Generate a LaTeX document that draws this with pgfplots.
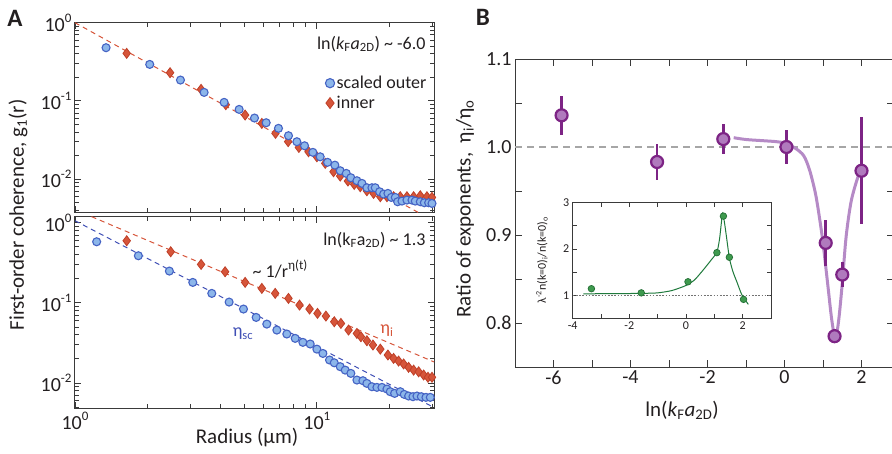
\documentclass[border=0pt]{standalone}
\usepackage{fontspec}
\setmainfont{Carlito}
\usepackage{pgfplots}
\pgfplotsset{compat=1.18}
\definecolor{bfill}{HTML}{8CB6EA}
\definecolor{bedge}{HTML}{4563C4}
\definecolor{rfill}{HTML}{D6553A}
\definecolor{redge}{HTML}{BF4028}
\definecolor{bline}{HTML}{3F4FB5}
\definecolor{pdark}{HTML}{7D2485}
\definecolor{pfill}{HTML}{B07ABD}
\definecolor{pfit}{HTML}{B58AC6}
\definecolor{gfill}{HTML}{3E9A4E}
\definecolor{gedge}{HTML}{236E35}
\definecolor{gline}{HTML}{1F7A3C}
\definecolor{frame}{HTML}{3A3A3A}
\definecolor{txt}{HTML}{231F20}
\newcommand\fs[1]{\fontsize{#1}{#1}\selectfont}
\newcommand\sups[1]{\raisebox{0.45em}{\fs{13}#1}}
\newcommand\tp[1]{10\sups{#1}}
\pgfplotsset{
  base/.style={scale only axis, axis line style={frame, line width=1pt},
    tick style={frame, line width=0.9pt}, tick align=inside,
    major tick length=6pt, minor tick length=4pt,
    tick label style={font=\fs{20}, text=txt}},
  bmark/.style={only marks, mark=*, mark size=4pt, mark options={fill=bfill, draw=bedge, line width=1.1pt}},
  rmark/.style={only marks, mark=diamond*, mark size=5pt, mark options={fill=rfill, draw=redge, line width=0.8pt}},
}
\pgfplotstableread{
x y
1.344 0.479
2.037 0.293
2.729 0.1848
3.419 0.1285
4.136 0.0958
4.771 0.0779
5.523 0.0604
6.171 0.0526
6.939 0.0446
7.633 0.0359
8.265 0.0301
8.892 0.0267
9.625 0.0220
10.32 0.0193
11.07 0.0164
11.87 0.0151
12.49 0.0128
13.23 0.01184
13.82 0.01042
14.64 0.00954
15.36 0.00882
16.10 0.00776
16.89 0.00776
17.43 0.00776
18.17 0.0069
18.88 0.00644
19.67 0.00657
20.31 0.00584
21.10 0.00584
21.57 0.00514
22.48 0.00524
23.57 0.0054
24.73 0.0054
25.52 0.00524
26.77 0.00514
27.81 0.00499
28.98 0.00499
29.92 0.00489
}\topblue
\pgfplotstableread{
x y
1.636 0.4054
2.472 0.2294
3.321 0.1404
4.202 0.0894
5.051 0.066
5.922 0.0516
6.745 0.0385
7.609 0.0301
8.425 0.0254
9.238 0.0224
10.0 0.0193
10.83 0.0159
11.72 0.01243
12.49 0.01094
13.44 0.00945
14.27 0.00856
15.11 0.0080
16.10 0.0071
17.16 0.00657
18.29 0.00596
19.49 0.00596
20.76 0.00596
22.12 0.00596
23.57 0.00596
25.12 0.00596
26.77 0.00613
28.52 0.00596
29.92 0.00584
}\topred
\pgfplotstableread{
x y
1.229 0.5794
1.828 0.3877
2.456 0.2495
3.069 0.1802
3.678 0.1314
4.337 0.1024
4.972 0.0838
5.61 0.0659
6.209 0.0544
6.832 0.0458
7.513 0.0409
8.135 0.0361
8.752 0.0322
9.385 0.0307
10.0 0.0265
10.59 0.0234
11.28 0.0194
11.80 0.0179
12.49 0.0160
13.10 0.0145
13.82 0.0132
14.64 0.0109
15.50 0.0107
16.10 0.0099
16.89 0.0090
17.71 0.00883
18.58 0.00883
19.49 0.00842
20.11 0.0078
20.96 0.00743
22.12 0.0078
22.98 0.00722
23.95 0.00689
24.96 0.00676
25.93 0.00689
27.03 0.00676
28.25 0.00663
29.44 0.00663
}\botblue
\pgfplotstableread{
x y
1.636 0.5963
2.488 0.4347
3.321 0.3021
4.175 0.2447
5.051 0.1802
5.922 0.1517
6.724 0.1314
7.633 0.1138
8.479 0.0940
9.327 0.0838
10.06 0.0740
10.90 0.0685
11.80 0.0582
12.57 0.0555
13.52 0.0458
14.64 0.0416
15.21 0.0378
16.10 0.0337
17.05 0.0298
18.29 0.0265
19.67 0.0224
20.76 0.0203
21.77 0.0188
22.84 0.0173
23.95 0.0157
25.12 0.0145
26.35 0.0138
27.63 0.0126
28.80 0.0118
29.92 0.0118
}\botred
\pgfplotstableread{
x y e
-5.79 1.036 0.022
-3.31 0.983 0.020
-1.59 1.009 0.017
0.05 1.000 0.019
1.07 0.891 0.026
1.30 0.785 0.008
1.50 0.855 0.014
2.00 0.973 0.061
}\ratio
\pgfplotstableread{
x y
-1.32 1.0106
-1.0 1.0085
-0.5 1.007
-0.2 1.006
0.05 1.004
0.3 0.998
0.5 0.990
0.65 0.974
0.8 0.948
0.9 0.922
1.0 0.891
1.13 0.841
1.22 0.806
1.3 0.785
1.36 0.789
1.42 0.808
1.5 0.845
1.6 0.898
1.73 0.938
1.9 0.965
2.0 0.974
}\ratiofit
\pgfplotstableread{
x y
-3.34 1.14
-1.58 1.05
0.07 1.29
1.09 1.92
1.32 2.71
1.53 1.82
2.03 0.91
}\inpts
\pgfplotstableread{
x y
-3.62 1.03
-2.5 1.033
-1.5 1.04
-1.0 1.05
-0.5 1.10
0.0 1.21
0.3 1.33
0.6 1.54
0.9 1.77
1.09 1.93
1.18 2.2
1.24 2.52
1.29 2.77
1.35 2.60
1.42 2.30
1.53 1.81
1.65 1.52
1.8 1.28
1.97 1.01
2.2 0.80
}\infit
\begin{document}
\begin{tikzpicture}
\useasboundingbox (0,0) rectangle (892pt,453pt);
% ---------- A top ----------
\begin{axis}[base, at={(75pt,241pt)}, anchor=south west, width=359pt, height=189.3pt,
  xmode=log, ymode=log, xmin=1, xmax=30.5, ymin=0.0038, ymax=1,
  xtick={1,10}, xticklabels={}, minor xtick={2,3,4,5,6,7,8,9,20,30},
  ytick={0.01,0.1,1}, yticklabels={\tp{-2},\tp{-1},\tp{0}},
  minor ytick={0.004,0.005,0.006,0.007,0.008,0.009,0.02,0.03,0.04,0.05,0.06,0.07,0.08,0.09,0.2,0.3,0.4,0.5,0.6,0.7,0.8,0.9},
  legend style={draw=none, fill=none, at={(0.697,0.628)}, anchor=west, font=\fs{18}, text=txt, row sep=2pt, inner sep=0pt, cells={anchor=west}},
  legend image code/.code={\draw[#1, mark repeat=1] plot coordinates {(4pt,0pt)};},
]
\addlegendimage{bmark, mark size=4.6pt}
\addlegendentry{scaled outer}
\addlegendimage{rmark, mark size=5.5pt}
\addlegendentry{inner}
\addplot[rfill, dash pattern=on 5pt off 4pt, line width=1pt, forget plot] coordinates {(1,1.0) (30.5,0.0029)};
\addplot[rmark, forget plot] table[x=x,y=y]{\topred};
\addplot[bmark, forget plot] table[x=x,y=y]{\topblue};
\end{axis}
% ---------- A bottom ----------
\begin{axis}[base, at={(75pt,44.7pt)}, anchor=south west, width=359pt, height=191.3pt,
  xmode=log, ymode=log, xmin=1, xmax=30.5, ymin=0.00484, ymax=1.18,
  xtick={1,10}, xticklabels={\tp{0},\tp{1}}, minor xtick={2,3,4,5,6,7,8,9,20,30},
  ytick={0.01,0.1,1}, yticklabels={\tp{-2},\tp{-1},\tp{0}},
  minor ytick={0.005,0.006,0.007,0.008,0.009,0.02,0.03,0.04,0.05,0.06,0.07,0.08,0.09,0.2,0.3,0.4,0.5,0.6,0.7,0.8,0.9},
]
\addplot[rfill, dash pattern=on 5pt off 4pt, line width=1pt] coordinates {(1,1.458) (30.5,0.01836)};
\addplot[bline, dash pattern=on 5pt off 4pt, line width=1pt] coordinates {(1,1.06) (30.5,0.00495)};
\addplot[rmark] table[x=x,y=y]{\botred};
\addplot[bmark] table[x=x,y=y]{\botblue};
\end{axis}
% ---------- B ----------
\begin{axis}[base, at={(515pt,86pt)}, anchor=south west, width=379pt, height=308pt,
  xmin=-7, xmax=2.844, ymin=0.75, ymax=1.1,
  xtick={-6,-4,-2,0,2}, xticklabels={-6,-4,-2,0,2}, minor xtick={-7,-5,-3,-1,1},
  ytick={0.8,0.9,1.0,1.1}, yticklabels={0.8,0.9,1.0,1.1}, minor ytick={0.85,0.95,1.05},
  major tick length=7pt, minor tick length=7pt,
]
\addplot[color=black!35, line width=2.6pt, dash pattern=on 7pt off 5pt] coordinates {(-7,1.0) (2.844,1.0)};
\addplot[pfit, line width=3pt, smooth] table[x=x,y=y]{\ratiofit};
\addplot[draw=none, mark=none, forget plot, error bars/.cd, y dir=both, y explicit, error mark=none,
  error bar style={draw=pdark, line width=2.6pt}] table[x=x,y=y,y error=e]{\ratio};
\addplot[only marks, mark=*, mark size=6pt, mark options={draw=pdark, fill=pfill, line width=2.2pt}] table[x=x,y=y]{\ratio};
\end{axis}
% ---------- inset ----------
\begin{axis}[base, at={(572.7pt,134.7pt)}, anchor=south west, width=198.3pt, height=115.6pt,
  axis background/.style={fill=white},
  axis line style={frame, line width=0.9pt}, tick style={frame, line width=0.8pt},
  major tick length=4pt, minor tick length=4pt,
  tick label style={font=\fs{12}, text=txt},
  xmin=-4, xmax=3, ymin=0.5, ymax=3,
  xtick={-4,-2,0,2}, xticklabels={-4,-2,0,2}, minor xtick={-3,-1,1,3},
  ytick={1,2,3}, yticklabels={1,2,3}, minor ytick={0.5,1.5,2.5},
]
\addplot[black!55, line width=0.8pt, dash pattern=on 1.6pt off 1.6pt] coordinates {(-4,1) (3,1)};
\addplot[gline, line width=1pt, smooth, tension=0.4] table[x=x,y=y]{\infit};
\addplot[only marks, mark=*, mark size=3.3pt, mark options={fill=gfill, draw=gedge, line width=0.7pt}] table[x=x,y=y]{\inpts};
\end{axis}
% ---------- text ----------
\node[font=\fs{25}\bfseries, text=txt] at (15pt,435pt) {A};
\node[font=\fs{25}\bfseries, text=txt] at (483pt,436pt) {B};
\node[font=\fs{21}, text=txt, rotate=90] at (18pt,238pt) {First-order coherence, g\textsubscript{1}(r)};
\node[font=\fs{21}, text=txt] at (247pt,15pt) {Radius (μm)};
\node[font=\fs{18}, text=txt, anchor=east] at (429pt,409pt) {ln(\textit{k}\textsubscript{F}\textit{a}\textsubscript{2D}) \textasciitilde{} -6.0};
\node[font=\fs{18}, text=txt, anchor=east] at (429pt,213pt) {ln(k\textsubscript{F}a\textsubscript{2D}) \textasciitilde{} 1.3};
\node[font=\fs{18}, text=txt] at (280pt,184pt) {\textasciitilde{} 1/r\sups{η(t)}};
\node[font=\fs{18}, text=bline] at (243pt,119pt) {η\textsubscript{sc}};
\node[font=\fs{18}, text=rfill] at (387pt,122pt) {η\textsubscript{i}};
\node[font=\fs{21}, text=txt, rotate=90] at (465pt,244pt) {Ratio of exponents,\ \ η\textsubscript{i}/η\textsubscript{o}};
\node[font=\fs{21}, text=txt] at (682pt,43pt) {ln(\textit{k}\textsubscript{F}\textit{a}\textsubscript{2D})};
\node[font=\fs{12}, text=txt, rotate=90] at (542pt,193pt) {λ\textsuperscript{-2}n(k=0)\textsubscript{i}/n(k=0)\textsubscript{o}};
\end{tikzpicture}
\end{document}
